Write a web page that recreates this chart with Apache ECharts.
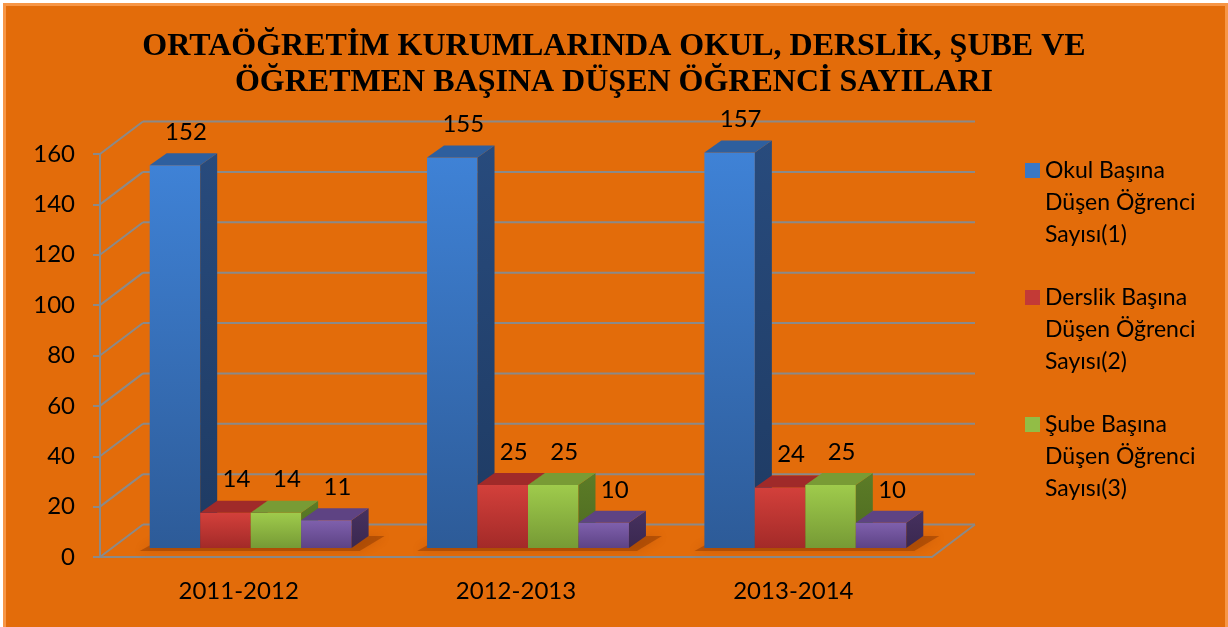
<!DOCTYPE html>
<html>
<head>
<meta charset="utf-8">
<script src="https://cdn.jsdelivr.net/npm/echarts@6/dist/echarts.min.js"></script>
<style>
  html, body { margin: 0; padding: 0; background: #fff; }
  #frame { position: absolute; left: 3px; top: 3px; width: 1225px; height: 630px;
           box-sizing: border-box; border: 3px solid #F79646; background: #E36C0A; }
  #chart { position: absolute; left: 0; top: 0; width: 1228px; height: 627px; }
</style>
</head>
<body>
<div id="frame"></div>
<div id="chart"></div>
<script>
// data
var categories = ['2011-2012', '2012-2013', '2013-2014'];
var okul = [152, 155, 157];
var derslik = [14, 25, 24];
var sube = [14, 25, 25];
var ogretmen = [11, 10, 10];
var yTicks = [0, 20, 40, 60, 80, 100, 120, 140, 160];
var seriesNames = [
  'Okul Başına Düşen Öğrenci Sayısı(1)',
  'Derslik Başına Düşen Öğrenci Sayısı(2)',
  'Şube Başına Düşen Öğrenci Sayısı(3)',
  'Öğretmen Başına Düşen Öğrenci Sayısı(4)'
];
var legendLabels = {
  'Okul Başına Düşen Öğrenci Sayısı(1)': 'Okul Başına\nDüşen Öğrenci\nSayısı(1)',
  'Derslik Başına Düşen Öğrenci Sayısı(2)': 'Derslik Başına\nDüşen Öğrenci\nSayısı(2)',
  'Şube Başına Düşen Öğrenci Sayısı(3)': 'Şube Başına\nDüşen Öğrenci\nSayısı(3)'
};

// 3d look: back wall offset, bar plane offset, bar depth
var DX = 43, DY = -32.5;
var BX = 12, BY = -9;
var PX = 17, PY = -12;
var FONT = 'Lato, "Open Sans", sans-serif';
var GRID_COLOR = '#8a8a8a';

var palette = [
  { front: ['#3f82d6', '#2d5b98'], top: '#2e5f9e', side: ['#284b7d', '#1e3a62'], legend: '#3a78c6' },
  { front: ['#d3403b', '#a32a28'], top: '#a02a29', side: ['#7e2120', '#6a1a19'], legend: '#c33a36' },
  { front: ['#9fcb4c', '#769a35'], top: '#789b35', side: ['#5c7c27', '#4d6a20'], legend: '#92bd46' },
  { front: ['#7f60ad', '#5d4385'], top: '#5e4383', side: ['#46315f', '#3a2850'], legend: '#7458a0' }
];

function grad(c) {
  return new echarts.graphic.LinearGradient(0, 0, 0, 1, [
    { offset: 0, color: c[0] }, { offset: 1, color: c[1] }
  ]);
}

function barRenderer(idx) {
  var col = palette[idx];
  return function (params, api) {
    var j = api.value(0);
    var v = api.value(1);
    var c0 = api.coord([j, 0]);
    var c1 = api.coord([j, v]);
    var band = api.size([1, 0])[0];
    var bw = band * 0.182;
    var x = c0[0] - 2 * bw + idx * bw + BX;
    var base = c0[1] + BY;
    var top = c1[1] + BY;
    return {
      type: 'group',
      children: [
        { type: 'rect', shape: { x: x, y: top, width: bw, height: base - top },
          style: { fill: grad(col.front) } },
        { type: 'polygon', shape: { points: [[x + bw, top], [x + bw + PX, top + PY], [x + bw + PX, base + PY], [x + bw, base]] },
          style: { fill: grad(col.side) } },
        { type: 'polygon', shape: { points: [[x, top], [x + bw, top], [x + bw + PX, top + PY], [x + PX, top + PY]] },
          style: { fill: col.top } },
        { type: 'text', style: { text: String(v), x: x + bw / 2 + 11, y: top + PY - 21,
            align: 'center', verticalAlign: 'middle', font: '24px ' + FONT, fill: '#000' } }
      ]
    };
  };
}

function wallRenderer(params, api) {
  var v = api.value(1);
  var cs = params.coordSys;
  var x0 = cs.x, x1 = cs.x + cs.width;
  var y = api.coord([0, v])[1];
  var ls = { stroke: GRID_COLOR, lineWidth: 2 };
  var kids = [
    { type: 'line', shape: { x1: x0, y1: y, x2: x0 + DX, y2: y + DY }, style: ls },
    { type: 'line', shape: { x1: x0 + DX, y1: y + DY, x2: x1 + DX, y2: y + DY }, style: ls }
  ];
  if (v === 0) {
    kids.push({ type: 'line', shape: { x1: x1, y1: y, x2: x1 + DX, y2: y + DY }, style: ls });
  }
  return { type: 'group', children: kids };
}

function shadowRenderer(params, api) {
  var j = api.value(0);
  var c0 = api.coord([j, 0]);
  var band = api.size([1, 0])[0];
  var bw = band * 0.182;
  var gl = c0[0] - 2 * bw + BX;
  var gr = c0[0] + 2 * bw + BX;
  var base = c0[1] + BY;
  return {
    type: 'polygon',
    shape: { points: [[gl - 10, base + 3], [gr + 8, base + 3], [gr + PX + 16, base + PY], [gl + PX, base + PY]] },
    style: { fill: 'rgba(120,45,0,0.4)', shadowBlur: 10, shadowColor: 'rgba(120,45,0,0.5)' }
  };
}

var chart = echarts.init(document.getElementById('chart'));
var seriesData = [okul, derslik, sube, ogretmen];

var series = [
  { name: 'walls', type: 'custom', renderItem: wallRenderer, clip: false, silent: true,
    data: yTicks.map(function (v) { return [0, v]; }), encode: { x: 0, y: 1 } },
  { name: 'shadow', type: 'custom', renderItem: shadowRenderer, clip: false, silent: true,
    data: categories.map(function (c, j) { return [j, 0]; }), encode: { x: 0, y: 1 } }
];
seriesData.forEach(function (arr, i) {
  series.push({
    name: seriesNames[i],
    type: 'custom',
    renderItem: barRenderer(i),
    clip: false,
    itemStyle: { color: palette[i].legend },
    data: arr.map(function (v, j) { return [j, v]; }),
    encode: { x: 0, y: 1 }
  });
});

var option = {
  backgroundColor: 'transparent',
  animation: false,
  title: {
    text: 'ORTAÖĞRETİM KURUMLARINDA OKUL, DERSLİK, ŞUBE VE\nÖĞRETMEN BAŞINA DÜŞEN ÖĞRENCİ SAYILARI',
    left: 'center',
    top: 24,
    textStyle: { fontFamily: '"Liberation Serif", "Times New Roman", serif', fontWeight: 'bold',
      fontSize: 32, lineHeight: 36, color: '#000' }
  },
  legend: {
    orient: 'vertical',
    left: 1020,
    top: 150,
    itemWidth: 15,
    itemHeight: 96,
    itemGap: 31,
    selectedMode: false,
    icon: 'path://M0,8h15v15h-15z M0,0h0.01 M0,96h0.01',
    data: seriesNames.slice(0, 3),
    formatter: function (name) { return legendLabels[name]; },
    textStyle: { fontFamily: FONT, fontSize: 23, lineHeight: 32, color: '#000' }
  },
  grid: { left: 100, top: 154, width: 832, height: 403, containLabel: false },
  xAxis: {
    type: 'category',
    data: categories,
    axisLine: { lineStyle: { color: GRID_COLOR, width: 2 } },
    axisTick: { length: 6, lineStyle: { color: GRID_COLOR, width: 2 } },
    axisLabel: { margin: 22, fontFamily: FONT, fontSize: 24, color: '#000' },
    splitLine: { show: false }
  },
  yAxis: {
    type: 'value',
    min: 0,
    max: 160,
    interval: 20,
    axisLine: { show: true, lineStyle: { color: GRID_COLOR, width: 2 } },
    axisTick: { show: true, length: 7, lineStyle: { color: GRID_COLOR, width: 2 } },
    axisLabel: { margin: 25, fontFamily: FONT, fontSize: 24, color: '#000' },
    splitLine: { show: false }
  },
  series: series
};
chart.setOption(option);
</script>
</body>
</html>
